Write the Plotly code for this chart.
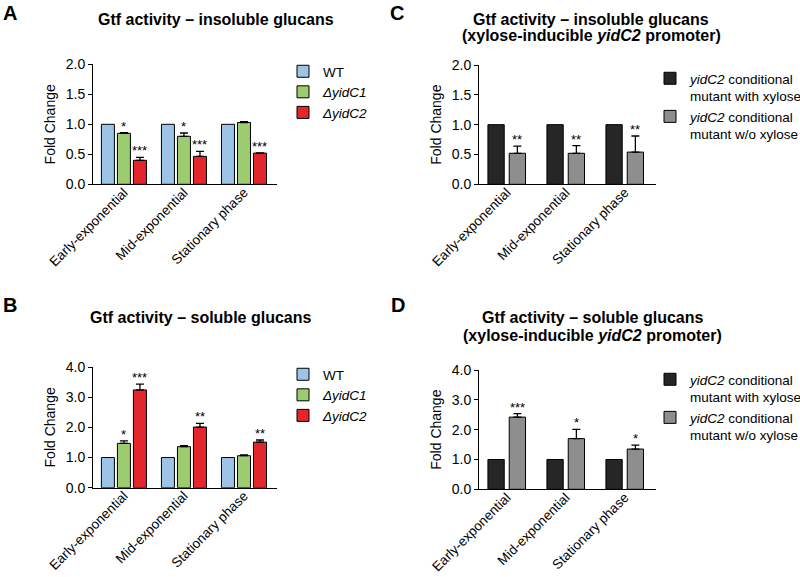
import plotly.graph_objects as go

# ---------------- data ----------------
categories = ["Early-exponential", "Mid-exponential", "Stationary phase"]

# Panel A - insoluble glucans, deletion mutants
a_wt = [1.0, 1.0, 1.0]
a_c1 = [0.85, 0.80, 1.03]
a_c1_err = [0.01, 0.055, 0.015]
a_c2 = [0.40, 0.465, 0.52]
a_c2_err = [0.05, 0.085, 0.005]
a_c1_sig = ["*", "*", ""]
a_c2_sig = ["***", "***", "***"]

# Panel B - soluble glucans, deletion mutants
b_wt = [1.0, 1.0, 1.0]
b_c1 = [1.47, 1.36, 1.06]
b_c1_err = [0.08, 0.03, 0.03]
b_c2 = [3.24, 2.01, 1.51]
b_c2_err = [0.19, 0.12, 0.07]
b_c1_sig = ["*", "", ""]
b_c2_sig = ["***", "**", "**"]

# Panel C - insoluble glucans, conditional mutant
c_with = [1.0, 1.0, 1.0]
c_wo = [0.52, 0.52, 0.54]
c_wo_err = [0.12, 0.13, 0.27]
c_sig = ["**", "**", "**"]

# Panel D - soluble glucans, conditional mutant
d_with = [1.0, 1.0, 1.0]
d_wo = [2.42, 1.70, 1.35]
d_wo_err = [0.12, 0.31, 0.13]
d_sig = ["***", "*", "*"]

names_del = ["WT", "<i>ΔyidC1</i>", "<i>ΔyidC2</i>"]
names_cond = ["<i>yidC2</i> conditional<br>mutant with xylose",
              "<i>yidC2</i> conditional<br>mutant w/o xylose"]

# ---------------- style ----------------
W, H = 800, 577
FONT = "Liberation Sans, Arial, Helvetica, sans-serif"
C_WT, C_C1, C_C2 = "#9DC3E6", "#9CCB70", "#E3262C"
C_BLK, C_GRY = "#262626", "#8E8E8E"


def xdom(x0, x1):
    return [x0 / W, x1 / W]


def ydom(y_top, y_bot):
    return [(H - y_bot) / H, (H - y_top) / H]


# bar geometry in category units
BW3, SLOT3 = 13 / 60, 16 / 60
BW2, SLOT2 = 16.3 / 59, 21.3 / 59

fig = go.Figure()


def add_panel(xa, ya, series, errs, colors, names, bw, slot, legend, sigs):
    n = len(series)
    for i, (vals, err, col, nm, sig) in enumerate(zip(series, errs, colors, names, sigs)):
        center = (i - (n - 1) / 2) * slot
        kw = {}
        if err is not None:
            kw["error_y"] = dict(type="data", array=err, arrayminus=[0] * len(err),
                                 symmetric=False, color="black", thickness=1.3, width=4)
        fig.add_trace(go.Bar(
            x=categories, y=vals, name=nm, xaxis=xa, yaxis=ya,
            width=bw, offset=center - bw / 2,
            marker=dict(color=col, line=dict(color="black", width=1)),
            legend=legend, showlegend=True, **kw))
        if sig is not None:
            for k, s in enumerate(sig):
                if s:
                    top = vals[k] + (err[k] if err is not None else 0)
                    fig.add_annotation(x=k + center, y=top, xref=xa, yref=ya,
                                       text=s, showarrow=False, yanchor="bottom",
                                       yshift=-3, font=dict(size=13, color="black", family=FONT))


add_panel("x", "y", [a_wt, a_c1, a_c2], [None, a_c1_err, a_c2_err],
          [C_WT, C_C1, C_C2], names_del, BW3, SLOT3, "legend", [None, a_c1_sig, a_c2_sig])
add_panel("x2", "y2", [b_wt, b_c1, b_c2], [None, b_c1_err, b_c2_err],
          [C_WT, C_C1, C_C2], names_del, BW3, SLOT3, "legend2", [None, b_c1_sig, b_c2_sig])
add_panel("x3", "y3", [c_with, c_wo], [None, c_wo_err],
          [C_BLK, C_GRY], names_cond, BW2, SLOT2, "legend3", [None, c_sig])
add_panel("x4", "y4", [d_with, d_wo], [None, d_wo_err],
          [C_BLK, C_GRY], names_cond, BW2, SLOT2, "legend4", [None, d_sig])


def yax(dom, rng, dt, anchor):
    return dict(domain=dom, range=rng, dtick=dt, tick0=0, anchor=anchor, automargin=False,
                showline=True, linecolor="black", linewidth=1,
                ticks="outside", ticklen=4, tickwidth=1, tickcolor="black",
                showgrid=False, zeroline=False, tickformat=".1f",
                tickfont=dict(size=14, color="black"),
                title=dict(text="Fold Change", font=dict(size=14, color="black"), standoff=6))


def xax(dom, rng, anchor):
    return dict(domain=dom, range=rng, anchor=anchor, type="category", automargin=False,
                showline=True, linecolor="black", linewidth=1, ticks="",
                showgrid=False, zeroline=False, tickangle=-45, ticklabelstandoff=-6,
                tickfont=dict(size=13.5, color="black"))


def leg(xpx, ypx):
    return dict(x=xpx / W, y=(H - ypx) / H, xanchor="left", yanchor="top",
                bgcolor="rgba(0,0,0,0)", borderwidth=0, tracegroupgap=0,
                font=dict(size=13.5, color="black", family=FONT), valign="top")


fig.update_layout(
    width=W, height=H, margin=dict(l=0, r=0, t=0, b=0, autoexpand=False),
    paper_bgcolor="white", plot_bgcolor="white",
    font=dict(family=FONT, color="black"),
    barmode="overlay",
    xaxis=xax(xdom(93, 277), [-0.515, 2.55], "y"),
    yaxis=yax(ydom(64.3, 184.3), [0, 2], 0.5, "x"),
    xaxis2=xax(xdom(93, 277), [-0.515, 2.55], "y2"),
    yaxis2=yax(ydom(367, 487.7), [0, 4], 1, "x2"),
    xaxis3=xax(xdom(479, 656), [-0.47, 2.53], "y3"),
    yaxis3=yax(ydom(65, 184.3), [0, 2], 0.5, "x3"),
    xaxis4=xax(xdom(479, 656), [-0.47, 2.53], "y4"),
    yaxis4=yax(ydom(370, 489.3), [0, 4], 1, "x4"),
    legend=leg(283, 56),
    legend2=leg(283, 359),
    legend3=leg(650, 63),
    legend4=leg(650, 364),
)

# titles and panel letters
def txt(x, y, s, size, bold=True):
    fig.add_annotation(x=x / W, y=(H - y) / H, xref="paper", yref="paper",
                       text=f"<b>{s}</b>" if bold else s, showarrow=False,
                       xanchor="center", yanchor="middle",
                       font=dict(size=size, color="black", family=FONT))


txt(10, 13, "A", 20)
txt(10, 305, "B", 20)
txt(397, 13, "C", 20)
txt(398, 305, "D", 20)
txt(216, 19, "Gtf activity – insoluble glucans", 16)
txt(591, 19, "Gtf activity – insoluble glucans", 16)
txt(591, 35, "(xylose-inducible <i>yidC2</i> promoter)", 16)
txt(201, 317, "Gtf activity – soluble glucans", 16)
txt(592, 317, "Gtf activity – soluble glucans", 16)
txt(592, 335, "(xylose-inducible <i>yidC2</i> promoter)", 16)

# remove the browser's default page margin so the 800x577 figure fills the window
fig.write_html("out.html", config={"displayModeBar": False},
               post_script="document.body.style.margin='0px';")
